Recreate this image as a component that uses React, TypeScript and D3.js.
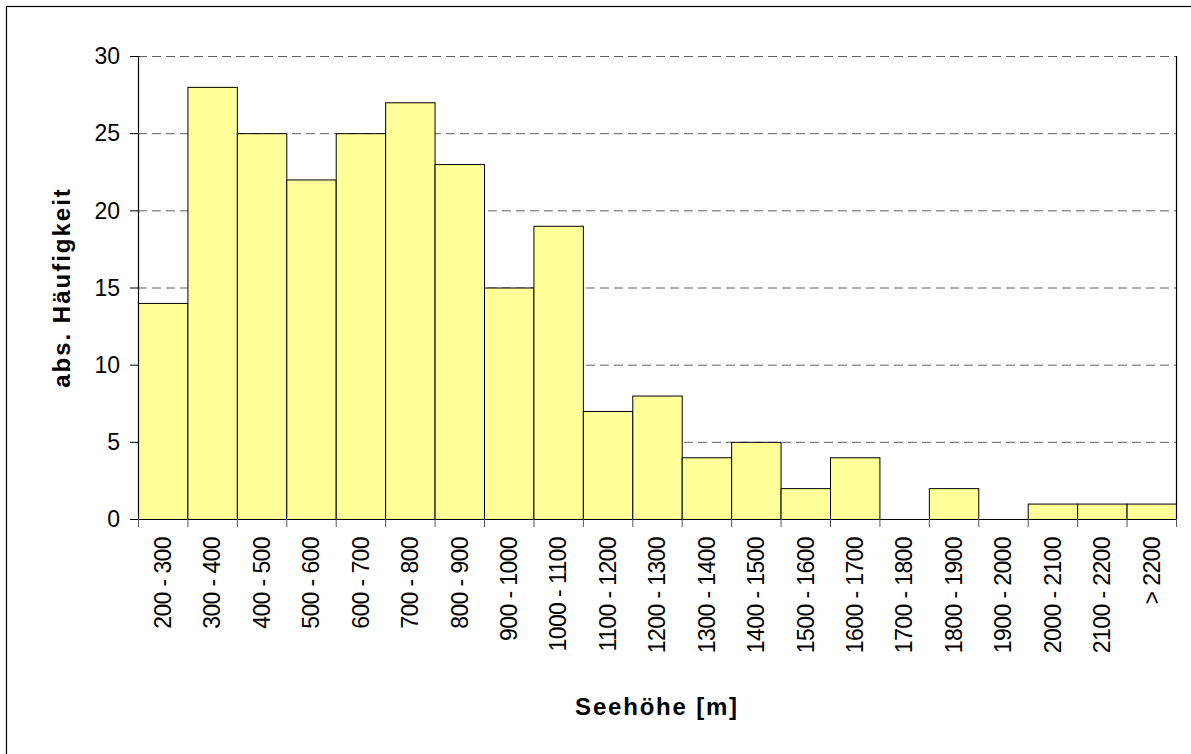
import React, { useEffect, useRef } from "react";
import * as d3 from "d3";

const categories: string[] = [
  "200 - 300", "300 - 400", "400 - 500", "500 - 600", "600 - 700", "700 - 800",
  "800 - 900", "900 - 1000", "1000 - 1100", "1100 - 1200", "1200 - 1300",
  "1300 - 1400", "1400 - 1500", "1500 - 1600", "1600 - 1700", "1700 - 1800",
  "1800 - 1900", "1900 - 2000", "2000 - 2100", "2100 - 2200", "> 2200",
];
const counts: number[] = [14, 28, 25, 22, 25, 27, 23, 15, 19, 7, 8, 4, 5, 2, 4, 0, 2, 0, 1, 1, 1];
const yTicks: number[] = [0, 5, 10, 15, 20, 25, 30];
const yTitle = "abs. Häufigkeit";
const xTitle = "Seehöhe [m]";

const W = 1191;
const H = 754;
const plot = { left: 138, right: 1176, top: 56, bottom: 519 };
const FONT = "Arial, 'Liberation Sans', Helvetica, sans-serif";

export default function App() {
  const ref = useRef<SVGSVGElement>(null);

  useEffect(() => {
    const svg = d3.select(ref.current);
    svg.selectAll("*").remove();

    const x = d3.scaleBand<string>().domain(categories).range([plot.left, plot.right]).padding(0);
    const y = d3.scaleLinear().domain([0, 30]).range([plot.bottom, plot.top]);

    // outer frame
    svg.append("rect")
      .attr("x", 6.5).attr("y", 6.5)
      .attr("width", W + 20).attr("height", H + 20)
      .attr("fill", "white").attr("stroke", "#000").attr("stroke-width", 1.2);

    // gridlines
    svg.append("g").selectAll("line")
      .data(yTicks.filter((t) => t > 0))
      .join("line")
      .attr("x1", plot.left).attr("x2", plot.right)
      .attr("y1", (d) => y(d) + 0.5).attr("y2", (d) => y(d) + 0.5)
      .attr("stroke", "#606060").attr("stroke-width", 1)
      .attr("stroke-dasharray", "9,5");

    // bars
    svg.append("g").selectAll("rect")
      .data(categories.map((c, i) => ({ c, v: counts[i] })))
      .join("rect")
      .attr("x", (d) => (x(d.c) as number) + 0.5)
      .attr("y", (d) => y(d.v) + 0.5)
      .attr("width", x.bandwidth())
      .attr("height", (d) => y(0) - y(d.v))
      .attr("fill", "#FFFF99")
      .attr("stroke", (d) => (d.v > 0 ? "#000" : "none"))
      .attr("stroke-width", 1);

    // right border of plot
    svg.append("line")
      .attr("x1", plot.right + 0.5).attr("x2", plot.right + 0.5)
      .attr("y1", plot.top).attr("y2", plot.bottom)
      .attr("stroke", "#000").attr("stroke-width", 1.2);

    // y axis
    const yAxis = svg.append("g");
    yAxis.append("line")
      .attr("x1", plot.left + 0.5).attr("x2", plot.left + 0.5)
      .attr("y1", plot.top).attr("y2", plot.bottom + 0.5)
      .attr("stroke", "#000").attr("stroke-width", 1.2);
    yAxis.selectAll("line.tick")
      .data(yTicks)
      .join("line")
      .attr("class", "tick")
      .attr("x1", plot.left - 8).attr("x2", plot.left)
      .attr("y1", (d) => y(d) + 0.5).attr("y2", (d) => y(d) + 0.5)
      .attr("stroke", "#000").attr("stroke-width", 1);
    yAxis.selectAll("text")
      .data(yTicks)
      .join("text")
      .attr("x", plot.left - 18)
      .attr("y", (d) => y(d))
      .attr("dy", "0.36em")
      .attr("text-anchor", "end")
      .attr("font-family", FONT)
      .attr("font-size", 23)
      .attr("fill", "#000")
      .text((d) => String(d));

    // x axis
    const xAxis = svg.append("g");
    xAxis.append("line")
      .attr("x1", plot.left).attr("x2", plot.right + 1)
      .attr("y1", plot.bottom + 0.5).attr("y2", plot.bottom + 0.5)
      .attr("stroke", "#000").attr("stroke-width", 1.2);
    const boundaries = categories.map((c) => x(c) as number).concat([plot.right]);
    xAxis.selectAll("line.tick")
      .data(boundaries)
      .join("line")
      .attr("class", "tick")
      .attr("x1", (d) => d + 0.5).attr("x2", (d) => d + 0.5)
      .attr("y1", plot.bottom).attr("y2", plot.bottom + 8)
      .attr("stroke", "#555").attr("stroke-width", 1);
    xAxis.selectAll("text")
      .data(categories)
      .join("text")
      .attr("transform", (d) => `translate(${(x(d) as number) + x.bandwidth() / 2},${plot.bottom + 18}) rotate(-90)`)
      .attr("dy", "0.36em")
      .attr("text-anchor", "end")
      .attr("font-family", FONT)
      .attr("font-size", 23)
      .attr("letter-spacing", -0.6)
      .attr("fill", "#000")
      .text((d) => d);

    // axis titles
    svg.append("text")
      .attr("x", (plot.left + plot.right) / 2)
      .attr("y", 715)
      .attr("text-anchor", "middle")
      .attr("font-family", FONT)
      .attr("font-weight", "bold")
      .attr("font-size", 24)
      .attr("letter-spacing", 1.8)
      .text(xTitle);

    svg.append("text")
      .attr("transform", `translate(61,${(plot.top + plot.bottom) / 2}) rotate(-90)`)
      .attr("dy", "0.36em")
      .attr("text-anchor", "middle")
      .attr("font-family", FONT)
      .attr("font-weight", "bold")
      .attr("font-size", 24)
      .attr("letter-spacing", 2)
      .text(yTitle);
  }, []);

  return (
    <svg
      ref={ref}
      width={W}
      height={H}
      style={{ position: "absolute", left: 0, top: 0, display: "block", background: "white" }}
    />
  );
}
